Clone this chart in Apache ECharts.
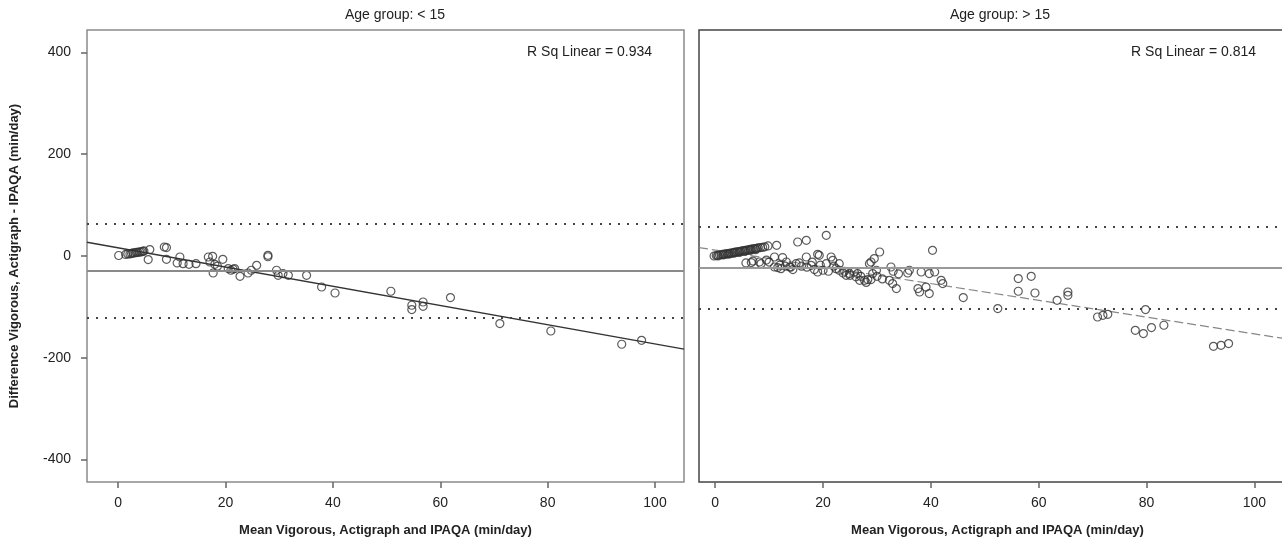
<!DOCTYPE html>
<html>
<head>
<meta charset="utf-8">
<script src="https://cdn.jsdelivr.net/npm/echarts@6/dist/echarts.min.js"></script>
<style>
  html, body { margin: 0; padding: 0; background: #fff; }
  #chart { width: 1282px; height: 548px; }
</style>
</head>
<body>
<div id="chart"></div>
<script>
// tick labels
const xTicks = [0, 20, 40, 60, 80, 100]
const yTicks = [-400, -200, 0, 200, 400]

// panel titles and R squared
const panelTitles = ['Age group: < 15', 'Age group: > 15']
const rSquared = ['0.934', '0.814']

// age < 15 : mean vs difference
const youngX = [0.1, 1.4, 1.8, 2.2, 2.5, 2.8, 3.1, 3.4, 3.7, 4.0, 4.3, 4.6, 4.8,
  5.9, 5.6, 8.6, 9.0, 9.0, 11.5, 11.0, 12.1, 13.2, 14.5, 16.8, 17.6, 17.1, 19.5, 18.0,
  17.7, 18.5, 20.5, 21.4, 21.0, 21.7, 22.7, 24.2, 24.8, 25.8, 27.9, 27.9, 29.5, 29.8,
  30.7, 31.7, 35.1, 37.9, 40.4, 50.8, 54.7, 54.7, 56.8, 56.8, 61.9, 71.1, 80.6, 93.8, 97.5]
const youngY = [1, 3, 4, 4, 5, 6, 6, 7, 7, 8, 8, 9, 10,
  12.6, -7, 17.7, 16.5, -6.5, -2, -13.7, -15, -16.3, -15, -2, -0.6, -11.8, -6.5, -16.3,
  -33.4, -20, -24.7, -26, -28, -24.7, -39.9, -33.4, -28, -18.3, 1.4, -1.5, -28, -37.9,
  -34.6, -37.9, -37.9, -60.9, -72.7, -69.3, -96.8, -105.3, -90.4, -98.8, -81.7, -132.8, -147.3, -173.4, -165.6]

// age > 15 : mean vs difference
const olderX = [-0.2, 0.2, 0.5, 0.8, 1.1, 1.4, 1.7, 2.0, 2.3, 2.6, 2.9, 3.2, 3.5, 3.8, 4.1,
  4.4, 4.7, 5.0, 5.3, 5.6, 5.9, 6.2, 6.5, 6.8, 7.1, 7.4, 7.7, 8.0, 8.4, 8.8, 9.2, 9.8, 11.4,
  0.5, 1.5, 2.5, 3.5, 4.5, 5.5, 6.5, 7.5,
  15.3, 16.9, 20.6, 5.7, 6.7, 8.2, 8.5, 11.0, 12.5, 13.2, 11.0, 11.6, 12.2, 13.8, 14.4, 15.0,
  15.6, 16.9, 17.8, 18.4, 19.0, 19.3, 19.0, 20.6, 21.5, 21.8, 22.4, 23.0, 23.7, 24.3, 24.9,
  26.1, 26.8, 27.7, 28.3, 28.9, 25.8, 26.4, 28.6, 28.9, 29.5, 30.5, 29.9, 29.2, 32.6, 32.3,
  32.9, 33.6, 35.7, 38.2, 39.7, 40.3, 40.7, 37.6, 37.9, 39.1, 39.7, 41.9, 42.2,
  7.0, 9.5, 10.0, 12.0, 13.0, 14.0, 16.0, 17.0, 18.0, 19.5, 20.0, 21.0, 22.0, 23.0, 24.0,
  25.0, 27.0, 28.0, 30.0, 31.0, 33.0, 34.0, 36.0,
  46.0, 52.4, 56.2, 56.2, 58.6, 59.3, 63.4, 65.4, 65.4, 70.9, 71.9, 72.8, 79.8, 77.9, 79.4,
  80.9, 83.2, 92.4, 93.8, 95.2]
const olderY = [0, 1, 1.5, 2, 2.5, 3, 3.5, 4, 4.5, 5, 5.5, 6, 7, 7.5, 8,
  8.5, 9, 10, 10.5, 11, 11.5, 12, 13, 13.5, 14, 14.5, 15, 16, 16.5, 17, 18, 19.7, 21,
  0, 2, 3.5, 5.5, 7, 9, 11, 12.5,
  27.5, 30.8, 40.7, -13.7, -13, -11.8, -15, -2, -3, -11.8, -21.6, -22.8, -24.8, -21.6, -26.7, -15,
  -13.7, -2, -18.3, -26.7, -31.4, 1.4, 3.3, -15, -2, -8.5, -24.8, -28, -33.4, -37.9, -34.6,
  -41, -47.7, -47.7, -46.4, -46.4, -31.4, -34.6, -15, -11.8, -5, 7.9, -28, -34.6, -21.6, -47.7,
  -54.2, -64, -33.4, -31.4, -34.6, 11.2, -31.4, -64, -70.7, -61, -73.9, -47.7, -54.2,
  -10, -8, -12, -18, -20, -22, -20, -22, -12, -18, -28, -30, -20, -15, -30,
  -38, -40, -52, -40, -45, -30, -35, -28,
  -81.7, -103.3, -44.4, -69.3, -39.9, -72.7, -87, -70.7, -77.2, -119.8, -116.5, -114.5, -105.3, -146, -152.4,
  -140.6, -136, -177.4, -175.4, -172]

// mean difference and limits of agreement
const youngLimits = { mean: -29, upper: 63.5, lower: -121 }
const olderLimits = { mean: -23, upper: 57, lower: -103 }

// fitted lines (ends read at the panel edges)
const youngFitX = [-5.8, 105.4]
const youngFitY = [27, -183]
const olderFitX = [-3, 107.7]
const olderFitY = [16.6, -165.7]

const font = 'Liberation Sans, Arial, sans-serif'
const zip = (xs, ys) => xs.map((x, i) => [x, ys[i]])

function limitLines(lim, meanColor, meanWidth) {
  return {
    silent: true,
    symbol: 'none',
    label: { show: false },
    data: [
      { yAxis: lim.mean, lineStyle: { type: 'solid', color: meanColor, width: meanWidth } },
      { yAxis: lim.upper, lineStyle: { type: [2, 7], color: '#444', width: 2 } },
      { yAxis: lim.lower, lineStyle: { type: [2, 7], color: '#444', width: 2 } }
    ]
  }
}

const chart = echarts.init(document.getElementById('chart'))

const xAxisBase = {
  type: 'value',
  axisLine: { show: false, onZero: false },
  splitLine: { show: false },
  axisTick: { show: true, length: 6, inside: false, customValues: xTicks, lineStyle: { color: '#666', width: 1.5 } },
  axisLabel: { customValues: xTicks, color: '#222', fontSize: 14, fontFamily: font, margin: 14 },
  name: 'Mean Vigorous, Actigraph and IPAQA (min/day)',
  nameLocation: 'middle',
  nameGap: 42,
  nameTextStyle: { color: '#222', fontSize: 13, fontWeight: 'bold', fontFamily: font }
}

chart.setOption({
  animation: false,
  grid: [
    { left: 87, top: 30, width: 597, height: 452, show: true, borderColor: '#8a8a8a', borderWidth: 1.5, containLabel: false, outerBoundsMode: 'none' },
    { left: 699, top: 30, width: 597, height: 452, show: true, borderColor: '#444', borderWidth: 1.5, containLabel: false, outerBoundsMode: 'none' }
  ],
  xAxis: [
    Object.assign({}, xAxisBase, { gridIndex: 0, min: -5.8, max: 105.4 }),
    Object.assign({}, xAxisBase, { gridIndex: 1, min: -3, max: 107.7 })
  ],
  yAxis: [
    {
      gridIndex: 0, type: 'value', min: -444, max: 444,
      axisLine: { show: false, onZero: false },
      splitLine: { show: false },
      axisTick: { show: true, length: 6, customValues: yTicks, lineStyle: { color: '#666', width: 1.5 } },
      axisLabel: { customValues: yTicks, color: '#222', fontSize: 14, fontFamily: font, margin: 16 },
      name: 'Difference Vigorous, Actigraph - IPAQA (min/day)',
      nameLocation: 'middle',
      nameGap: 66,
      nameTextStyle: { color: '#222', fontSize: 13, fontWeight: 'bold', fontFamily: font }
    },
    {
      gridIndex: 1, type: 'value', min: -444, max: 444,
      axisLine: { show: false, onZero: false },
      splitLine: { show: false },
      axisTick: { show: false },
      axisLabel: { show: false }
    }
  ],
  graphic: [
    { type: 'text', x: 395, y: 15, style: { text: panelTitles[0], font: '14px ' + font, fill: '#222', textAlign: 'center', textVerticalAlign: 'middle' } },
    { type: 'text', x: 1000, y: 15, style: { text: panelTitles[1], font: '14px ' + font, fill: '#222', textAlign: 'center', textVerticalAlign: 'middle' } },
    { type: 'text', x: 652, y: 52, style: { text: 'R Sq Linear = ' + rSquared[0], font: '14px ' + font, fill: '#222', textAlign: 'right', textVerticalAlign: 'middle' } },
    { type: 'text', x: 1256, y: 52, style: { text: 'R Sq Linear = ' + rSquared[1], font: '14px ' + font, fill: '#222', textAlign: 'right', textVerticalAlign: 'middle' } }
  ],
  series: [
    {
      type: 'scatter', xAxisIndex: 0, yAxisIndex: 0,
      data: zip(youngX, youngY),
      symbol: 'circle', symbolSize: 8,
      itemStyle: { color: 'rgba(255,255,255,0)', borderColor: '#333', borderWidth: 1.2 },
      markLine: limitLines(youngLimits, '#8a8a8a', 1.8),
      z: 3
    },
    {
      type: 'line', xAxisIndex: 0, yAxisIndex: 0,
      data: zip(youngFitX, youngFitY),
      symbol: 'none', silent: true,
      lineStyle: { color: '#333', width: 1.3 },
      z: 2
    },
    {
      type: 'scatter', xAxisIndex: 1, yAxisIndex: 1,
      data: zip(olderX, olderY),
      symbol: 'circle', symbolSize: 8,
      itemStyle: { color: 'rgba(255,255,255,0)', borderColor: '#333', borderWidth: 1.2 },
      markLine: limitLines(olderLimits, '#999', 2.2),
      z: 3
    },
    {
      type: 'line', xAxisIndex: 1, yAxisIndex: 1,
      data: zip(olderFitX, olderFitY),
      symbol: 'none', silent: true,
      lineStyle: { color: '#888', width: 1.2, type: [9, 4] },
      z: 2
    }
  ]
})
</script>
</body>
</html>
